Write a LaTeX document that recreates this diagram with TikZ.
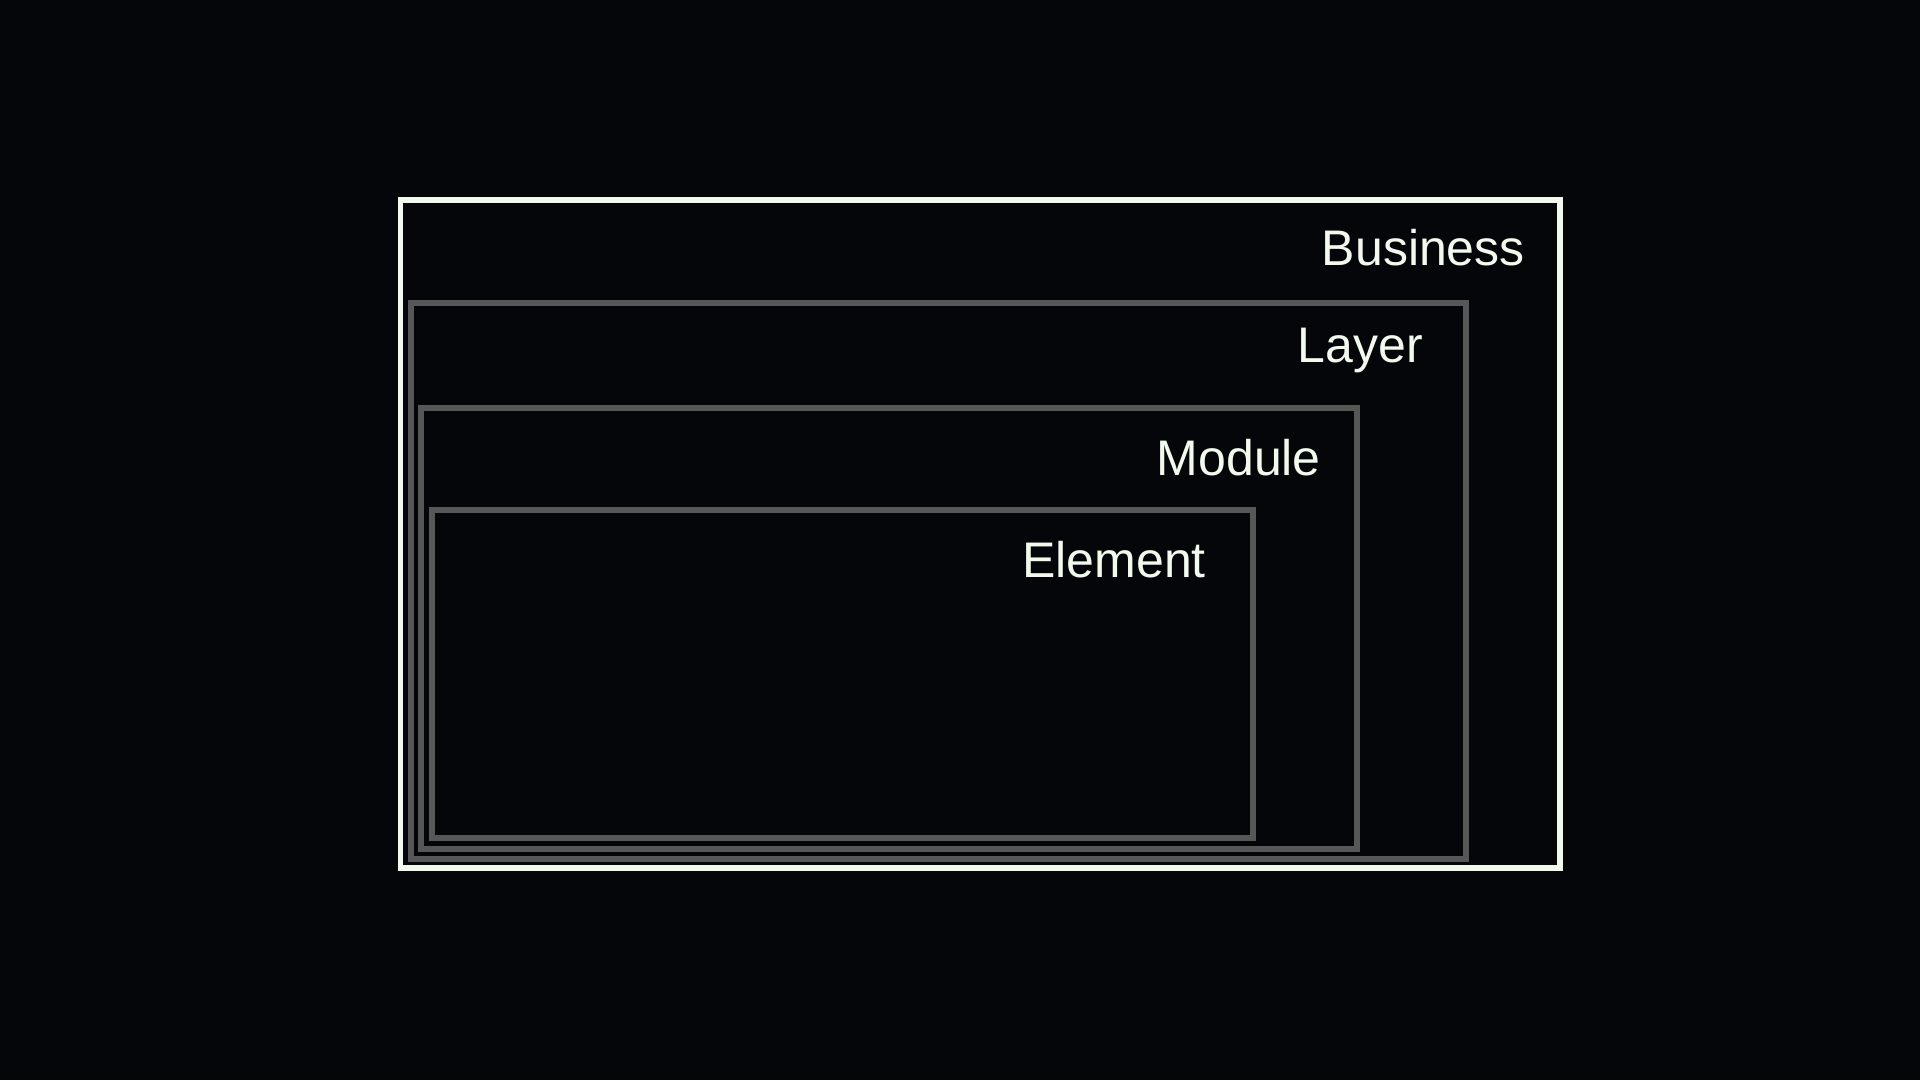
\documentclass[tikz,border=0pt]{standalone}
\usepackage{fontspec}
\setmainfont{Liberation Sans}
\definecolor{bg}{RGB}{4,6,10}
\definecolor{fg}{RGB}{242,250,238}
\definecolor{frame}{RGB}{86,88,87}
\begin{document}
\begin{tikzpicture}[x=1pt,y=-1pt,
  outerbox/.style={draw=fg,line width=5.5pt},
  innerbox/.style={draw=frame,line width=6pt},
  lbl/.style={text=fg,inner sep=0pt,anchor=base east,font=\fontsize{50}{60}\selectfont}]
\fill[bg] (0,0) rectangle (1920,1080);
\useasboundingbox (0,0) rectangle (1920,1080);
\draw[outerbox] (400.5,200) rectangle (1560,868);
\draw[innerbox] (411.3,302.5) rectangle (1466,859);
\draw[innerbox] (421.3,407.5) rectangle (1357,849);
\draw[innerbox] (432,510) rectangle (1253,838);
\node[lbl] (business) at (1525,265) {Business};
\node[lbl] (layer) at (1423,362) {Layer};
\node[lbl] (module) at (1321,475) {Module};
\node[lbl] (element) at (1206,577) {Element};
\end{tikzpicture}
\end{document}
